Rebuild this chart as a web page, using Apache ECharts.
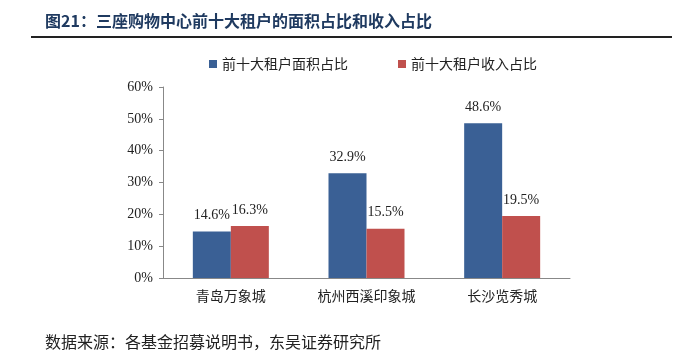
<!DOCTYPE html>
<html>
<head>
<meta charset="utf-8">
<script src="https://cdn.jsdelivr.net/npm/echarts@6/dist/echarts.min.js"></script>
<style>
  html, body { margin: 0; padding: 0; background: #fff; }
  #chart { width: 682px; height: 352px; }
</style>
</head>
<body>
<div id="chart"></div>
<script>
  var categories = ['青岛万象城', '杭州西溪印象城', '长沙览秀城']
  var areaShare = [14.6, 32.9, 48.6]
  var incomeShare = [16.3, 15.5, 19.5]
  var seriesNames = ['前十大租户面积占比', '前十大租户收入占比']

  var serifFont = '"Liberation Serif", "Noto Sans CJK SC", serif'
  var cjkFont = '"Noto Sans CJK SC", serif'
  var chart = echarts.init(document.getElementById('chart'))
  var option = {
    animation: false,
    title: [
      {
        text: '图21：三座购物中心前十大租户的面积占比和收入占比',
        left: 40,
        top: 8,
        textStyle: { fontSize: 16, fontWeight: 'bold', color: '#1F3A60', fontFamily: cjkFont }
      },
      {
        text: '数据来源：各基金招募说明书，东吴证券研究所',
        left: 40,
        top: 329,
        textStyle: { fontSize: 16, fontWeight: 'normal', color: '#222', fontFamily: cjkFont }
      }
    ],
    graphic: [
      {
        type: 'line',
        shape: { x1: 31, y1: 37, x2: 672, y2: 37 },
        style: { stroke: '#222', lineWidth: 2 }
      }
    ],
    legend: {
      data: seriesNames,
      top: 52,
      left: 204,
      itemGap: 50,
      itemWidth: 8,
      itemHeight: 8,
      icon: 'rect',
      textStyle: { fontSize: 14, color: '#222', fontFamily: cjkFont }
    },
    grid: { left: 163, right: 112, top: 87, bottom: 74 },
    xAxis: {
      type: 'category',
      data: categories,
      axisLine: { lineStyle: { color: '#888' } },
      axisTick: { inside: true, length: 4, lineStyle: { color: '#888' } },
      axisLabel: { fontSize: 14, color: '#222', margin: 11, fontFamily: cjkFont }
    },
    yAxis: {
      type: 'value',
      min: 0,
      max: 60,
      interval: 10,
      splitLine: { show: false },
      axisLine: { show: true, lineStyle: { color: '#888' } },
      axisTick: { show: true, length: 4, lineStyle: { color: '#888' } },
      axisLabel: { formatter: '{value}%', fontSize: 14, color: '#222', margin: 10, fontFamily: serifFont }
    },
    series: [
      {
        name: seriesNames[0],
        type: 'bar',
        data: areaShare,
        barWidth: 38,
        barGap: '0%',
        itemStyle: { color: '#3A6095' },
        label: { show: true, position: 'top', distance: 9, formatter: '{c}%', fontSize: 14, color: '#222', fontFamily: serifFont }
      },
      {
        name: seriesNames[1],
        type: 'bar',
        data: incomeShare,
        barWidth: 38,
        barGap: '0%',
        itemStyle: { color: '#C0504D' },
        label: { show: true, position: 'top', distance: 9, formatter: '{c}%', fontSize: 14, color: '#222', fontFamily: serifFont }
      }
    ]
  }
  chart.setOption(option)
</script>
</body>
</html>
